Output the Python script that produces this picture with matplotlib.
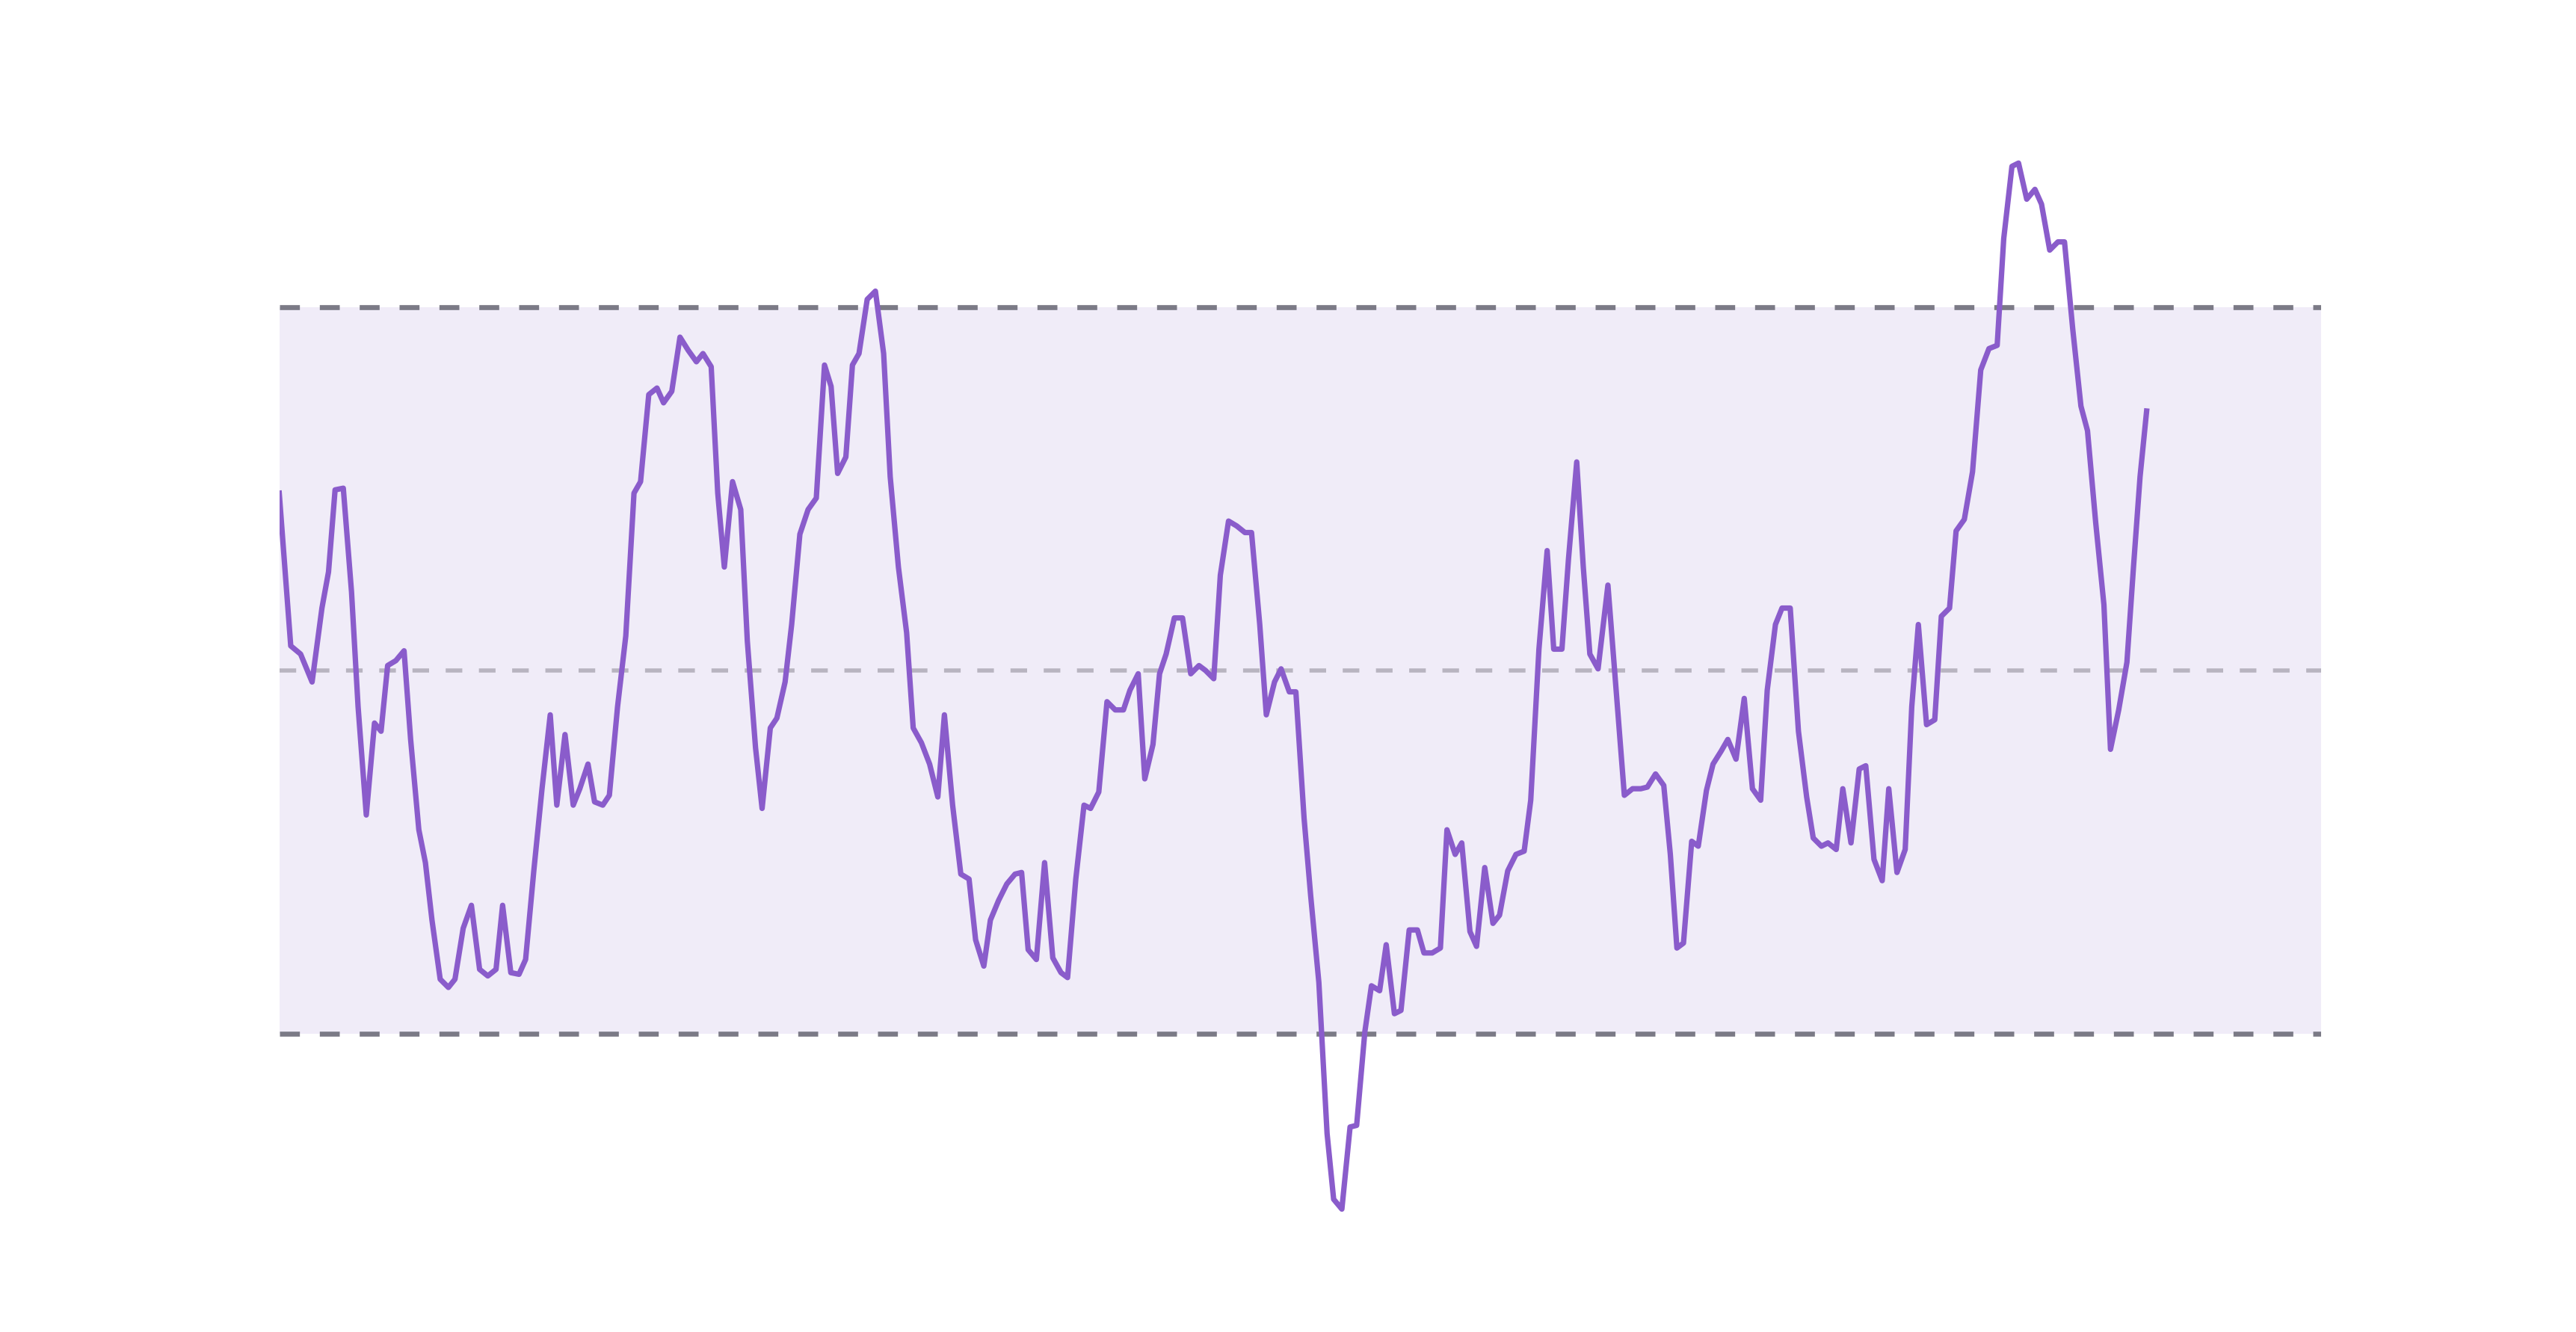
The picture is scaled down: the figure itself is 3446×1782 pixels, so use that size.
import matplotlib
matplotlib.use("Agg")
import matplotlib.pyplot as plt
import numpy as np

# values (x = sample index, y = value; band spans -1..1)
px = [170,177,183,190,196,200,204,209,214,218,223,228,232,236,241,246,250,255,259,263,268,273,277,282,287,292,297,302,306,311,316,320,325,330,335,339,344,349,353,358,362,367,371,376,381,386,390,395,400,404,409,414,419,424,428,433,437,441,446,451,455,460,464,469,473,478,482,487,492,497,502,506,510,515,519,523,528,533,538,542,547,552,556,561,566,571,575,580,585,590,594,599,603,608,613,618,622,626,631,636,641,646,650,655,660,664,669,674,679,684,688,693,697,702,706,710,715,720,725,730,734,739,743,748,753,758,762,767,771,776,780,785,789,794,798,803,808,812,817,822,826,831,835,840,844,849,853,858,863,867,872,877,881,886,890,895,899,904,909,913,918,923,928,932,937,942,946,951,955,960,964,968,973,979,984,989,994,999,1003,1008,1013,1017,1021,1025,1030,1034,1039,1043,1048,1052,1057,1062,1067,1072,1076,1081,1085,1090,1095,1100,1104,1109,1113,1118,1122,1127,1132,1136,1141,1146,1150,1155,1160,1164,1168,1173,1178,1182,1187,1191,1196,1201,1206,1211,1216,1220,1225,1229,1234,1239,1243,1248,1253,1257,1262,1267,1271,1276,1281,1285,1290,1295,1299,1303,1307]
py = [300,393,398,415,370,348,298,297,360,430,496,440,445,405,402,396,450,505,525,560,596,601,596,565,551,590,594,590,551,592,593,584,530,480,435,490,447,490,480,465,488,490,484,430,387,300,293,240,236,245,238,205,213,220,215,223,300,345,293,310,390,455,492,443,437,415,380,325,310,303,222,235,288,278,222,215,182,177,215,290,345,385,443,452,465,485,435,490,532,535,572,588,560,548,538,532,531,578,584,525,583,592,595,535,490,492,482,427,432,432,420,410,474,453,410,398,376,376,410,405,408,413,350,317,320,324,324,380,435,415,407,421,421,498,545,598,690,730,736,686,685,628,600,603,575,617,615,566,566,580,580,577,505,520,513,567,576,528,562,557,530,520,518,487,395,335,395,395,340,281,345,398,407,356,420,484,480,480,479,471,478,520,577,574,512,515,481,465,457,450,462,425,480,487,420,380,370,370,445,485,510,515,513,517,480,513,468,466,523,536,480,531,517,430,380,441,438,375,370,323,316,287,225,212,210,145,101,99,121,115,124,152,147,147,200,247,262,318,368,456,432,403,345,290,250]
x = (np.array(px) - 170) / 4.6
y = (408 - np.array(py)) / 221.0

fig = plt.figure(figsize=(17.23, 8.91), dpi=200)
ax = fig.add_axes([0.1084, 0.075, 0.7925, 0.826])
ax.axhspan(-1, 1, xmin=0, xmax=1, color="#f0ecf8", lw=0, zorder=0)
ax.axhline(1, color="#7b7a86", lw=2.4, ls=(0, (4, 4)), zorder=1)
ax.axhline(-1, color="#7b7a86", lw=2.4, ls=(0, (4, 4)), zorder=1)
ax.axhline(0, color="#b8b4c0", lw=2.0, ls=(0, (4, 4)), zorder=1)
ax.plot(x, y, color="#8a5ccb", lw=2.6, solid_joinstyle="round", zorder=3)
ax.set_xlim(0, (1413 - 170) / 4.6)
ax.set_ylim((408 - 750) / 221.0, (408 - 80) / 221.0)
ax.axis("off")
fig.savefig("out.png", dpi=200)
